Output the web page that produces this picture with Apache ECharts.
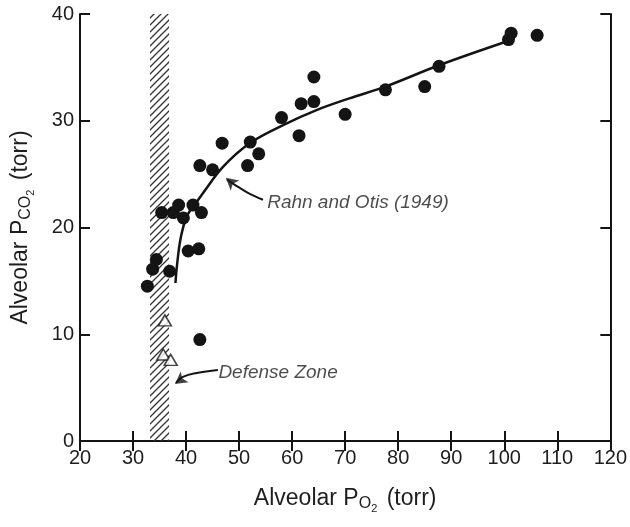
<!DOCTYPE html>
<html>
<head>
<meta charset="utf-8">
<script src="https://cdn.jsdelivr.net/npm/echarts@6/dist/echarts.min.js"></script>
<style>html,body{margin:0;padding:0;background:#fff;}#c{width:630px;height:527px;}</style>
</head>
<body>
<div id="c"></div>
<script>
// ---- data ----
var xTicks = [20, 30, 40, 50, 60, 70, 80, 90, 100, 110, 120];
var yTicks = [0, 10, 20, 30, 40];
// filled circles: alveolar PO2, PCO2
var circles = [
  [32.7, 14.5], [33.7, 16.1], [34.4, 17.0], [36.9, 15.9],
  [35.4, 21.4], [37.6, 21.4], [38.6, 22.1], [39.5, 20.9], [41.3, 22.1], [42.9, 21.4],
  [40.4, 17.8], [42.4, 18.0], [42.6, 9.5],
  [42.6, 25.8], [45.0, 25.4], [46.8, 27.9], [51.6, 25.8], [52.1, 28.0], [53.7, 26.9],
  [58.0, 30.3], [61.3, 28.6], [61.7, 31.6], [64.1, 31.8], [64.1, 34.1],
  [70.0, 30.6], [77.6, 32.9], [85.0, 33.2], [87.7, 35.1],
  [100.8, 37.6], [101.3, 38.2], [106.2, 38.0]
];
// open triangles
var triangles = [[36.0, 11.3], [35.7, 8.1], [37.1, 7.6]];
// Rahn and Otis (1949) curve
var curve = [
  [38.0, 14.8], [38.2, 16.0], [38.8, 18.5], [39.5, 20.1], [40.4, 21.3],
  [42.0, 22.4], [43.0, 23.1], [47.0, 25.7], [52.0, 27.9], [58.3, 29.6],
  [64.6, 31.0], [70.8, 32.1], [77.6, 33.2], [87.7, 35.2], [100.3, 37.4]
];
// defense zone band (PO2 range)
var defenseZone = [33.2, 36.8];
// annotation texts, anchors and arrow paths (data coordinates)
var rahnText = 'Rahn and Otis (1949)';
var rahnAt = [55.2, 22.3];
var rahnArrow = [[54.5, 22.6], [51.5, 23.3], [49.2, 24.0], [47.7, 24.5]];
var rahnHead = [47.5, 24.65];
var defenseText = 'Defense Zone';
var defenseAt = [46.0, 6.4];
var defenseArrow = [[46.0, 6.65], [42.0, 6.37], [39.4, 6.0], [38.1, 5.45]];
var defenseHead = [37.9, 5.35];

// ---- chart ----
function hatchPattern() {
  var s = 7;
  var c = document.createElement('canvas');
  c.width = s; c.height = s;
  var g = c.getContext('2d');
  g.strokeStyle = '#333';
  g.lineWidth = 1.3;
  g.beginPath();
  g.moveTo(0, s); g.lineTo(s, 0);
  g.moveTo(-1, 1); g.lineTo(1, -1);
  g.moveTo(s - 1, s + 1); g.lineTo(s + 1, s - 1);
  g.stroke();
  return c;
}
var FONT = 'Liberation Sans, Arial, Helvetica, sans-serif';
var ink = '#141414';
var txt = '#1e1e1e';
var chart = echarts.init(document.getElementById('c'), null, {renderer: 'canvas'});

var axisCommon = {
  type: 'value',
  axisLine: {show: true, lineStyle: {color: ink, width: 2}},
  axisTick: {show: true, inside: true, length: 10, lineStyle: {color: ink, width: 2}},
  splitLine: {show: false}
};
var subRich = {
  o: {fontSize: 16, fontFamily: FONT, color: txt, padding: [10, 0, 0, 0]},
  s: {fontSize: 11, fontFamily: FONT, color: txt, padding: [20, 3, 0, 0]}
};

function labelSeries(text, at) {
  return {
    type: 'scatter', z: 5, silent: true,
    symbolSize: 1, itemStyle: {color: 'rgba(0,0,0,0)'},
    data: [{value: at, name: text}],
    label: {
      show: true, position: 'right', distance: 0, formatter: '{b}',
      color: txt, fontSize: 19, fontStyle: 'italic', fontFamily: FONT
    }
  };
}
function shaftSeries(path) {
  return {type: 'line', data: path, smooth: 0.4, symbol: 'none', z: 5, silent: true,
    lineStyle: {color: ink, width: 2}};
}
function headSeries(pt, rot) {
  return {type: 'scatter', data: [pt], symbol: 'arrow', symbolSize: [10, 12], symbolRotate: rot,
    z: 6, silent: true, itemStyle: {color: ink}};
}

var option = {
  animation: false,
  backgroundColor: '#fff',
  grid: {left: 80, top: 14, right: 19, bottom: 86, containLabel: false},
  xAxis: [
    Object.assign({}, axisCommon, {
      min: xTicks[0], max: xTicks[xTicks.length - 1], interval: 10, position: 'bottom',
      axisLabel: {color: txt, fontSize: 20, fontFamily: FONT, margin: 7},
      name: 'Alveolar P{o|O}{s|2} (torr)', nameLocation: 'middle', nameGap: 42,
      nameTextStyle: {color: txt, fontSize: 23, fontFamily: FONT, rich: subRich}
    }),
    Object.assign({}, axisCommon, {
      min: xTicks[0], max: xTicks[xTicks.length - 1], interval: 10, position: 'top',
      axisLabel: {show: false}
    })
  ],
  yAxis: [
    Object.assign({}, axisCommon, {
      min: yTicks[0], max: yTicks[yTicks.length - 1], interval: 10, position: 'left',
      axisLabel: {color: txt, fontSize: 20, fontFamily: FONT, margin: 6},
      name: 'Alveolar P{o|CO}{s|2} (torr)', nameLocation: 'middle', nameGap: 44, nameRotate: 90,
      nameTextStyle: {color: txt, fontSize: 23, fontFamily: FONT, rich: subRich}
    }),
    Object.assign({}, axisCommon, {
      min: yTicks[0], max: yTicks[yTicks.length - 1], interval: 10, position: 'right',
      axisLabel: {show: false}
    })
  ],
  series: [
    {
      type: 'line', data: [], xAxisIndex: 0, yAxisIndex: 0, silent: true,
      markArea: {
        silent: true,
        itemStyle: {color: {image: hatchPattern(), repeat: 'repeat'}, borderWidth: 0},
        data: [[{xAxis: defenseZone[0], yAxis: yTicks[0]}, {xAxis: defenseZone[1], yAxis: yTicks[yTicks.length - 1]}]]
      }
    },
    {
      type: 'line', data: curve, smooth: 0.35, symbol: 'none', z: 3,
      lineStyle: {color: ink, width: 2.5}
    },
    {
      type: 'scatter', data: circles, symbol: 'circle', symbolSize: 13, z: 4,
      itemStyle: {color: ink, opacity: 1}
    },
    {
      type: 'scatter', data: triangles, symbol: 'triangle', symbolSize: [13, 11], z: 4,
      itemStyle: {color: '#fff', borderColor: ink, borderWidth: 1.5}
    },
    labelSeries(rahnText, rahnAt),
    labelSeries(defenseText, defenseAt),
    shaftSeries(rahnArrow),
    shaftSeries(defenseArrow),
    headSeries(rahnHead, 50),
    headSeries(defenseHead, 126)
  ]
};
chart.setOption(option);
</script>
</body>
</html>
